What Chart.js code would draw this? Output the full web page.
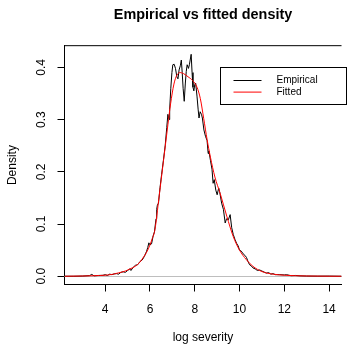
<!DOCTYPE html>
<html>
<head>
<meta charset="utf-8">
<script src="https://cdn.jsdelivr.net/npm/chart.js@4"></script>
<style>
  html, body { margin: 0; padding: 0; background: #fff; }
  #wrap { width: 347px; height: 345px; }
</style>
</head>
<body>
<div id="wrap"><canvas id="myChart"></canvas></div>
<script>
// empirical vs fitted density of log severity

var empX = [2.2, 2.6, 3.0, 3.3, 3.4, 3.5, 3.7, 3.9, 4.0, 4.1, 4.2, 4.3, 4.4, 4.5, 4.6, 4.7, 4.8, 4.9,
    5.0, 5.1, 5.15, 5.25, 5.35, 5.45, 5.55, 5.65, 5.75, 5.85, 5.9, 5.95, 6.0, 6.07, 6.14, 6.2,
    6.27, 6.3, 6.33, 6.38, 6.45, 6.52, 6.6, 6.68, 6.75, 6.8, 6.85, 6.88, 6.93, 6.98, 7.02, 7.08,
    7.14, 7.2, 7.25, 7.3, 7.36, 7.4, 7.44, 7.48, 7.53, 7.58, 7.62, 7.66, 7.72, 7.76, 7.84, 7.88,
    7.92, 7.96, 8.0, 8.04, 8.1, 8.15, 8.19, 8.24, 8.3, 8.34, 8.41, 8.48, 8.55, 8.6, 8.63, 8.7,
    8.77, 8.82, 8.87, 8.94, 9.0, 9.07, 9.12, 9.2, 9.28, 9.36, 9.42, 9.5, 9.58, 9.65, 9.72, 9.8,
    9.87, 9.94, 10.0, 10.08, 10.16, 10.24, 10.31, 10.38, 10.45, 10.52, 10.6, 10.7, 10.8, 10.9,
    11.0, 11.1, 11.2, 11.3, 11.4, 11.5, 11.6, 11.8, 12.0, 12.1, 12.3, 12.5, 12.7, 13.0, 13.5,
    14.0, 14.56]
var empY = [0, 0, 0.0004, 0.0012, 0.0035, 0.0008, 0.0015, 0.0018, 0.003, 0.0015, 0.004, 0.003,
    0.0045, 0.005, 0.004, 0.0075, 0.0085, 0.0075,
    0.011, 0.014, 0.011, 0.017, 0.021, 0.022, 0.028, 0.031, 0.038, 0.048, 0.055, 0.064, 0.06,
    0.062, 0.077, 0.085,
    0.11, 0.128, 0.136, 0.14, 0.17, 0.195, 0.222, 0.25, 0.285, 0.31, 0.30, 0.32, 0.36, 0.39,
    0.405, 0.406,
    0.398, 0.382, 0.378, 0.395, 0.404, 0.414, 0.39, 0.36, 0.335, 0.37, 0.392, 0.405, 0.398,
    0.405, 0.425, 0.39,
    0.362, 0.355, 0.367, 0.37, 0.345, 0.32, 0.303, 0.315, 0.31, 0.303, 0.28, 0.268, 0.26,
    0.235, 0.24, 0.222,
    0.205, 0.178, 0.185, 0.165, 0.156, 0.169, 0.16, 0.14, 0.128, 0.102, 0.11, 0.108, 0.118,
    0.093, 0.08, 0.07,
    0.063, 0.058, 0.05, 0.048, 0.043, 0.04, 0.036, 0.028, 0.022, 0.02, 0.016, 0.014, 0.011,
    0.012,
    0.01, 0.008, 0.006, 0.007, 0.004, 0.005, 0.003, 0.003, 0.0025, 0.003, 0.001, 0.0015,
    0.0008, 0.0004, 0.0002,
    0.0003, 0]

var fitX = [2.18, 3.0, 3.5, 4.0, 4.3, 4.6, 4.9, 5.1, 5.34, 5.55, 5.7, 5.85, 6.0, 6.1, 6.22,
    6.4, 6.6, 6.8, 6.92, 7.07, 7.2, 7.35, 7.5, 7.7, 7.9, 8.1, 8.25, 8.4, 8.55, 8.7, 8.9, 9.14,
    9.43, 9.72, 10.0, 10.3, 10.6, 11.0, 11.5, 12.0, 12.5, 13.0, 14.0, 14.56]
var fitY = [0.0, 0.0005, 0.001, 0.002, 0.0035, 0.0065, 0.01, 0.014, 0.019, 0.027, 0.036,
    0.046, 0.06, 0.072, 0.089,
    0.15, 0.22, 0.29, 0.33, 0.368, 0.385, 0.39, 0.388, 0.382, 0.375, 0.362, 0.34, 0.302,
    0.262, 0.228, 0.19, 0.158,
    0.115, 0.076, 0.05, 0.032, 0.019, 0.009, 0.004, 0.002, 0.001, 0.0005, 0.0001, 0.0]

var xTicks = [4, 6, 8, 10, 12, 14]
var yTicks = [0, 0.1, 0.2, 0.3, 0.4]
var seriesNames = ['Empirical', 'Fitted']
var seriesColors = ['#000000', '#ff0000']

var font = 'Liberation Sans'

function pairs(xs, ys) {
    return xs.map((x, i) => ({ x: x, y: ys[i] }))
}

// box top, zero line, rotated y labels and the legend box (R style)
const rStyle = {
    id: 'rStyle',
    beforeDatasetsDraw(chart) {
        const { ctx, chartArea, scales } = chart
        const y0 = Math.round(scales.y.getPixelForValue(0)) + 0.5
        ctx.save()
        ctx.strokeStyle = '#bebebe'
        ctx.lineWidth = 1
        ctx.beginPath()
        ctx.moveTo(chartArea.left, y0)
        ctx.lineTo(chartArea.right, y0)
        ctx.stroke()
        ctx.restore()
    },
    afterDraw(chart) {
        const { ctx, chartArea, scales } = chart
        ctx.save()
        ctx.strokeStyle = '#000'
        ctx.lineWidth = 1
        ctx.beginPath()
        ctx.moveTo(chartArea.left, chartArea.top)
        ctx.lineTo(chartArea.right, chartArea.top)
        ctx.stroke()

        ctx.fillStyle = '#000'
        ctx.font = '12px ' + font
        ctx.textAlign = 'center'
        ctx.textBaseline = 'middle'
        yTicks.forEach(v => {
            const py = scales.y.getPixelForValue(v)
            ctx.save()
            ctx.translate(chartArea.left - 23, py)
            ctx.rotate(-Math.PI / 2)
            ctx.fillText(v.toFixed(1), 0, 0)
            ctx.restore()
        })

        // legend
        const lx = 220.5, ly = 67.5
        ctx.strokeStyle = '#000'
        ctx.strokeRect(lx, ly, 126, 37)
        ctx.font = '10px ' + font
        ctx.textAlign = 'left'
        chart.data.datasets.forEach((ds, i) => {
            const yy = ly + 13 + i * 11.6
            ctx.strokeStyle = ds.borderColor
            ctx.beginPath()
            ctx.moveTo(lx + 13, yy)
            ctx.lineTo(lx + 41, yy)
            ctx.stroke()
            ctx.fillStyle = '#000'
            ctx.fillText(ds.label, lx + 56, yy)
        })
        ctx.restore()
    }
}

var ctx = document.getElementById('myChart')

new Chart(ctx, {
    type: 'line',
    data: {
        datasets: [{
            label: seriesNames[0],
            data: pairs(empX, empY),
            borderColor: seriesColors[0],
            borderWidth: 1,
            pointRadius: 0,
            tension: 0,
            order: 1
        }, {
            label: seriesNames[1],
            data: pairs(fitX, fitY),
            borderColor: seriesColors[1],
            borderWidth: 1,
            pointRadius: 0,
            cubicInterpolationMode: 'monotone',
            order: 0
        }]
    },
    options: {
        responsive: true,
        maintainAspectRatio: false,
        animation: false,
        layout: { padding: { left: 0, right: 0, top: 0, bottom: 0 } },
        plugins: {
            legend: { display: false },
            tooltip: { enabled: false },
            title: {
                display: true,
                fullSize: false,
                text: 'Empirical vs fitted density',
                color: '#000',
                font: { family: font, size: 14.4, weight: 'bold' },
                padding: { top: 6, bottom: 22.4 }
            }
        },
        scales: {
            x: {
                type: 'linear',
                min: 2.182,
                max: 14.556,
                afterBuildTicks: s => { s.ticks = xTicks.map(v => ({ value: v })) },
                afterFit: s => { s.height = 60.5 },
                border: { display: true, color: '#000', width: 1 },
                grid: { drawOnChartArea: false, drawTicks: true, tickLength: 7, color: '#000' },
                ticks: {
                    color: '#000',
                    font: { family: font, size: 12 },
                    padding: 11,
                    maxRotation: 0,
                    callback: v => String(v)
                },
                title: {
                    display: true,
                    text: 'log severity',
                    color: '#000',
                    font: { family: font, size: 12 },
                    padding: { top: 0, bottom: 0 }
                }
            },
            y: {
                min: -0.0158,
                max: 0.4415,
                afterBuildTicks: s => { s.ticks = yTicks.map(v => ({ value: v })) },
                afterFit: s => { s.width = 64.5 },
                border: { display: true, color: '#000', width: 1 },
                grid: { drawOnChartArea: false, drawTicks: true, tickLength: 7, color: '#000' },
                ticks: { display: false },
                title: {
                    display: true,
                    text: 'Density',
                    color: '#000',
                    font: { family: font, size: 12 },
                    padding: { top: 5, bottom: 0 }
                }
            }
        }
    },
    plugins: [rStyle]
})
</script>
</body>
</html>
